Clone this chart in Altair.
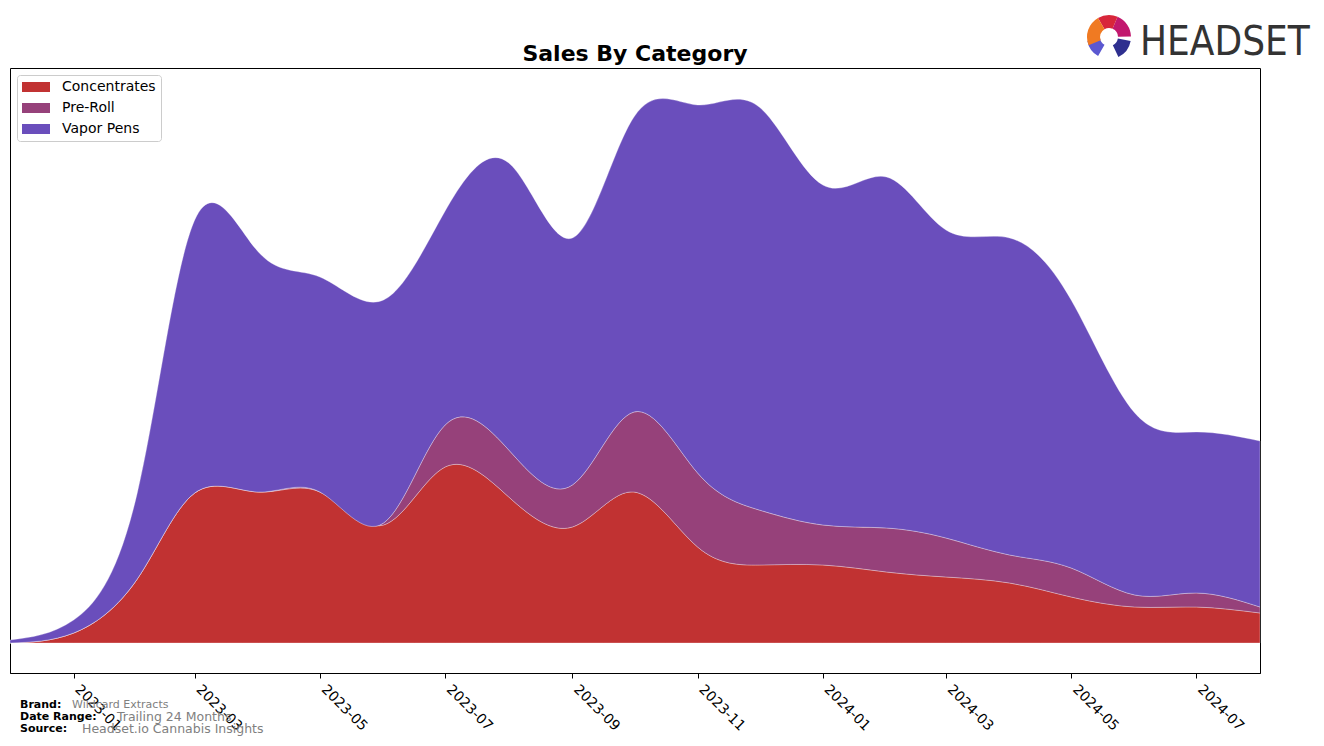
import altair as alt
import pandas as pd

# ---- data ----
months = ["2022-12", "2023-01", "2023-02", "2023-03", "2023-04", "2023-05", "2023-06",
          "2023-07", "2023-08", "2023-09", "2023-10", "2023-11", "2023-12", "2024-01",
          "2024-02", "2024-03", "2024-04", "2024-05", "2024-06", "2024-07", "2024-08"]
concentrates = [0, 10, 64, 150, 151, 151, 118, 176, 146, 116, 151, 96, 78, 78, 71, 66, 60, 46, 36, 36, 30]
pre_roll = [0, 0, 0, 0, 0, 0, 2, 42, 47, 42, 80, 74, 55, 40, 44, 39, 28, 29, 12, 14, 6]
vapor_pens = [3, 13, 86, 273, 240, 215, 223, 214, 287, 247, 295, 368, 403, 340, 351, 308, 317, 268, 182, 161, 166]

categories = ["Concentrates", "Pre-Roll", "Vapor Pens"]
colors = ["#C13232", "#96417A", "#6A4EBC"]
tick_months = ["2023-01", "2023-03", "2023-05", "2023-07", "2023-09", "2023-11",
               "2024-01", "2024-03", "2024-05", "2024-07"]

title_text = "Sales By Category"
footer_keys = ["Brand:", "Date Range:", "Source:"]
footer_vals = ["Wildcard Extracts", "Trailing 24 Months", "Headset.io Cannabis Insights"]
logo_text = "HEADSET"
logo_colors = ["#D8263A", "#C2186E", "#2E2F8F", "#5B58D0", "#F07A22", "#D8263A"]
logo_t1 = [5.76, 0.40, 1.75, 3.66, 4.33, 0.0]
logo_t2 = [6.2832, 1.55, 2.70, 4.53, 5.76, 0.40]

# ---- build table ----
rows = []
series = [concentrates, pre_roll, vapor_pens]
for i, m in enumerate(months):
    for k, cat in enumerate(categories):
        rows.append({"month": m + "-01", "category": cat, "sales": series[k][i], "ord": k})
df = pd.DataFrame(rows)


def dt(s):
    y, m = s.split("-")
    return alt.DateTime(year=int(y), month=int(m), date=1, utc=True)


W, H = 1250, 605

area = alt.Chart(df).mark_area(
    interpolate="natural", stroke="white", strokeWidth=0.6, strokeOpacity=0.5
).encode(
    x=alt.X("month:T",
            scale=alt.Scale(type="utc", domain=[dt(months[0]), dt(months[-1])], nice=False),
            axis=alt.Axis(values=[dt(t) for t in tick_months], format="%Y-%m",
                          labelAngle=45, labelAlign="left", labelBaseline="top",
                          labelFontSize=14, labelFont="DejaVu Sans", labelColor="black",
                          tickSize=5, tickColor="black", domainColor="black",
                          labelPadding=4, labelOffset=8, grid=False, title=None,
                          labelOverlap=False, labelFlush=False)),
    y=alt.Y("sales:Q", stack="zero",
            scale=alt.Scale(domain=[-30, 575], nice=False, zero=False), axis=None),
    color=alt.Color("category:N",
                    scale=alt.Scale(domain=categories, range=colors),
                    legend=alt.Legend(title=None, orient="none", legendX=7, legendY=7,
                                      fillColor="white", strokeColor="#cccccc",
                                      cornerRadius=3, padding=5, labelFontSize=14,
                                      labelFont="DejaVu Sans", labelColor="black",
                                      symbolType="M-1,-0.357H1V0.357H-1Z", symbolSize=784,
                                      symbolStrokeWidth=0, symbolOpacity=1, clipHeight=14,
                                      rowPadding=7, labelOffset=12)),
    order=alt.Order("ord:Q", sort="ascending"),
)

title = alt.Chart(pd.DataFrame({"t": [title_text]})).mark_text(
    fontSize=22, fontWeight="bold", font="DejaVu Sans", color="black", baseline="middle"
).encode(x=alt.value(W / 2), y=alt.value(-14), text="t:N")

layers = [area, title]

key_y = [637, 649, 661]
val_x = [62, 107, 72]
val_size = [11, 12.5, 12.5]
for i in range(3):
    layers.append(alt.Chart(pd.DataFrame({"t": [footer_keys[i]]})).mark_text(
        fontSize=11, fontWeight="bold", font="DejaVu Sans", color="black",
        align="left", baseline="middle"
    ).encode(x=alt.value(10), y=alt.value(key_y[i]), text="t:N"))
    layers.append(alt.Chart(pd.DataFrame({"t": [footer_vals[i]]})).mark_text(
        fontSize=val_size[i], font="DejaVu Sans", color="#808080",
        align="left", baseline="middle"
    ).encode(x=alt.value(val_x[i]), y=alt.value(key_y[i]), text="t:N"))

logo_df = pd.DataFrame({"c": logo_colors, "t1": logo_t1, "t2": logo_t2})
logo_icon = alt.Chart(logo_df).mark_arc(radius=22, radius2=9).encode(
    x=alt.value(1099), y=alt.value(-31),
    theta=alt.Theta("t1:Q", scale=None), theta2="t2:Q",
    fill=alt.Fill("c:N", scale=None, legend=None),
)
logo_word = alt.Chart(pd.DataFrame({"t": [logo_text]})).mark_text(
    fontSize=40, font="DejaVu Sans Condensed, Liberation Sans Narrow, DejaVu Sans",
    color="#333333", align="left", baseline="alphabetic"
).encode(x=alt.value(1130), y=alt.value(-13), text="t:N")
layers += [logo_icon, logo_word]

chart = alt.layer(*layers).properties(
    width=W, height=H,
    autosize=alt.AutoSizeParams(type="none"),
    padding={"left": 10, "top": 68, "right": 64, "bottom": 73},
).configure(font="DejaVu Sans").configure_view(stroke="black", strokeWidth=1)

chart.save("out.html", embed_options={"renderer": "svg", "actions": False})
